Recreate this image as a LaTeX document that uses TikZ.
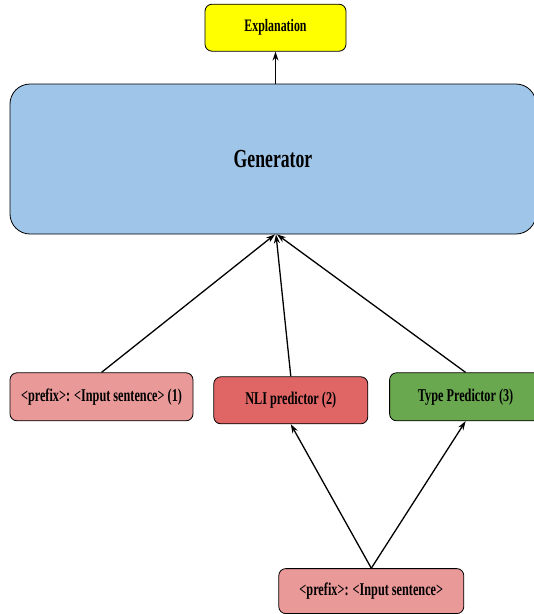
\documentclass[tikz,border=0pt]{standalone}
\usepackage{fontspec}
\setmainfont{Liberation Serif}[FakeStretch=0.68]
\usetikzlibrary{positioning, arrows.meta}
\definecolor{explyellow}{HTML}{FFFF00}
\definecolor{genblue}{HTML}{9FC5E8}
\definecolor{inpink}{HTML}{EA9999}
\definecolor{nlired}{HTML}{E06666}
\definecolor{typegreen}{HTML}{6AA84F}

\begin{document}
\begin{tikzpicture}[x=1pt, y=1pt, >={Stealth[length=9pt,width=6pt]},
  box/.style={draw, rounded corners=7pt, line width=0.8pt, minimum height=47pt,
    font=\bfseries\fontsize{18}{20}\selectfont},
  flow/.style={->, line width=1.3pt}]
\useasboundingbox (0,0) rectangle (534,-614);

% Main blocks
\node (gen) [box, rounded corners=20pt, fill=genblue, minimum width=526pt, minimum height=150pt,
  font=\bfseries\fontsize{26}{30}\selectfont] at (273,-159) {Generator};
\node (expl) [box, fill=explyellow, minimum width=141pt, font=\bfseries\fontsize{17.5}{20}\selectfont,
  above=32pt of gen, xshift=2.5pt] {Explanation};

% Inputs to the generator
\node (p1) [box, fill=inpink, minimum width=183pt, minimum height=48pt,
  below=138pt of gen.south west, anchor=north west] {<prefix>: <Input sentence> (1)};
\node (nli) [box, fill=nlired, minimum width=154pt, right=20pt of p1, yshift=-3.5pt] {NLI predictor (2)};
\node (type) [box, fill=typegreen, minimum width=152pt, minimum height=48pt,
  right=21pt of nli, yshift=3.5pt] {Type Predictor (3)};
\node (inp) [box, fill=inpink, minimum width=185pt, minimum height=45pt,
  below=144pt of nli, xshift=80.5pt] {<prefix>: <Input sentence>};

% Arrows
\draw[flow] (expl.south |- gen.north) -- (expl.south);
\draw[flow] (p1.north) -- ([xshift=2pt]gen.south);
\draw[flow] (nli.north) -- ([xshift=3pt]gen.south);
\draw[flow] (type.north) -- ([xshift=4pt]gen.south);
\draw[flow] (inp.north) -- (nli.south);
\draw[flow] (inp.north) -- (type.south);
\end{tikzpicture}
\end{document}
